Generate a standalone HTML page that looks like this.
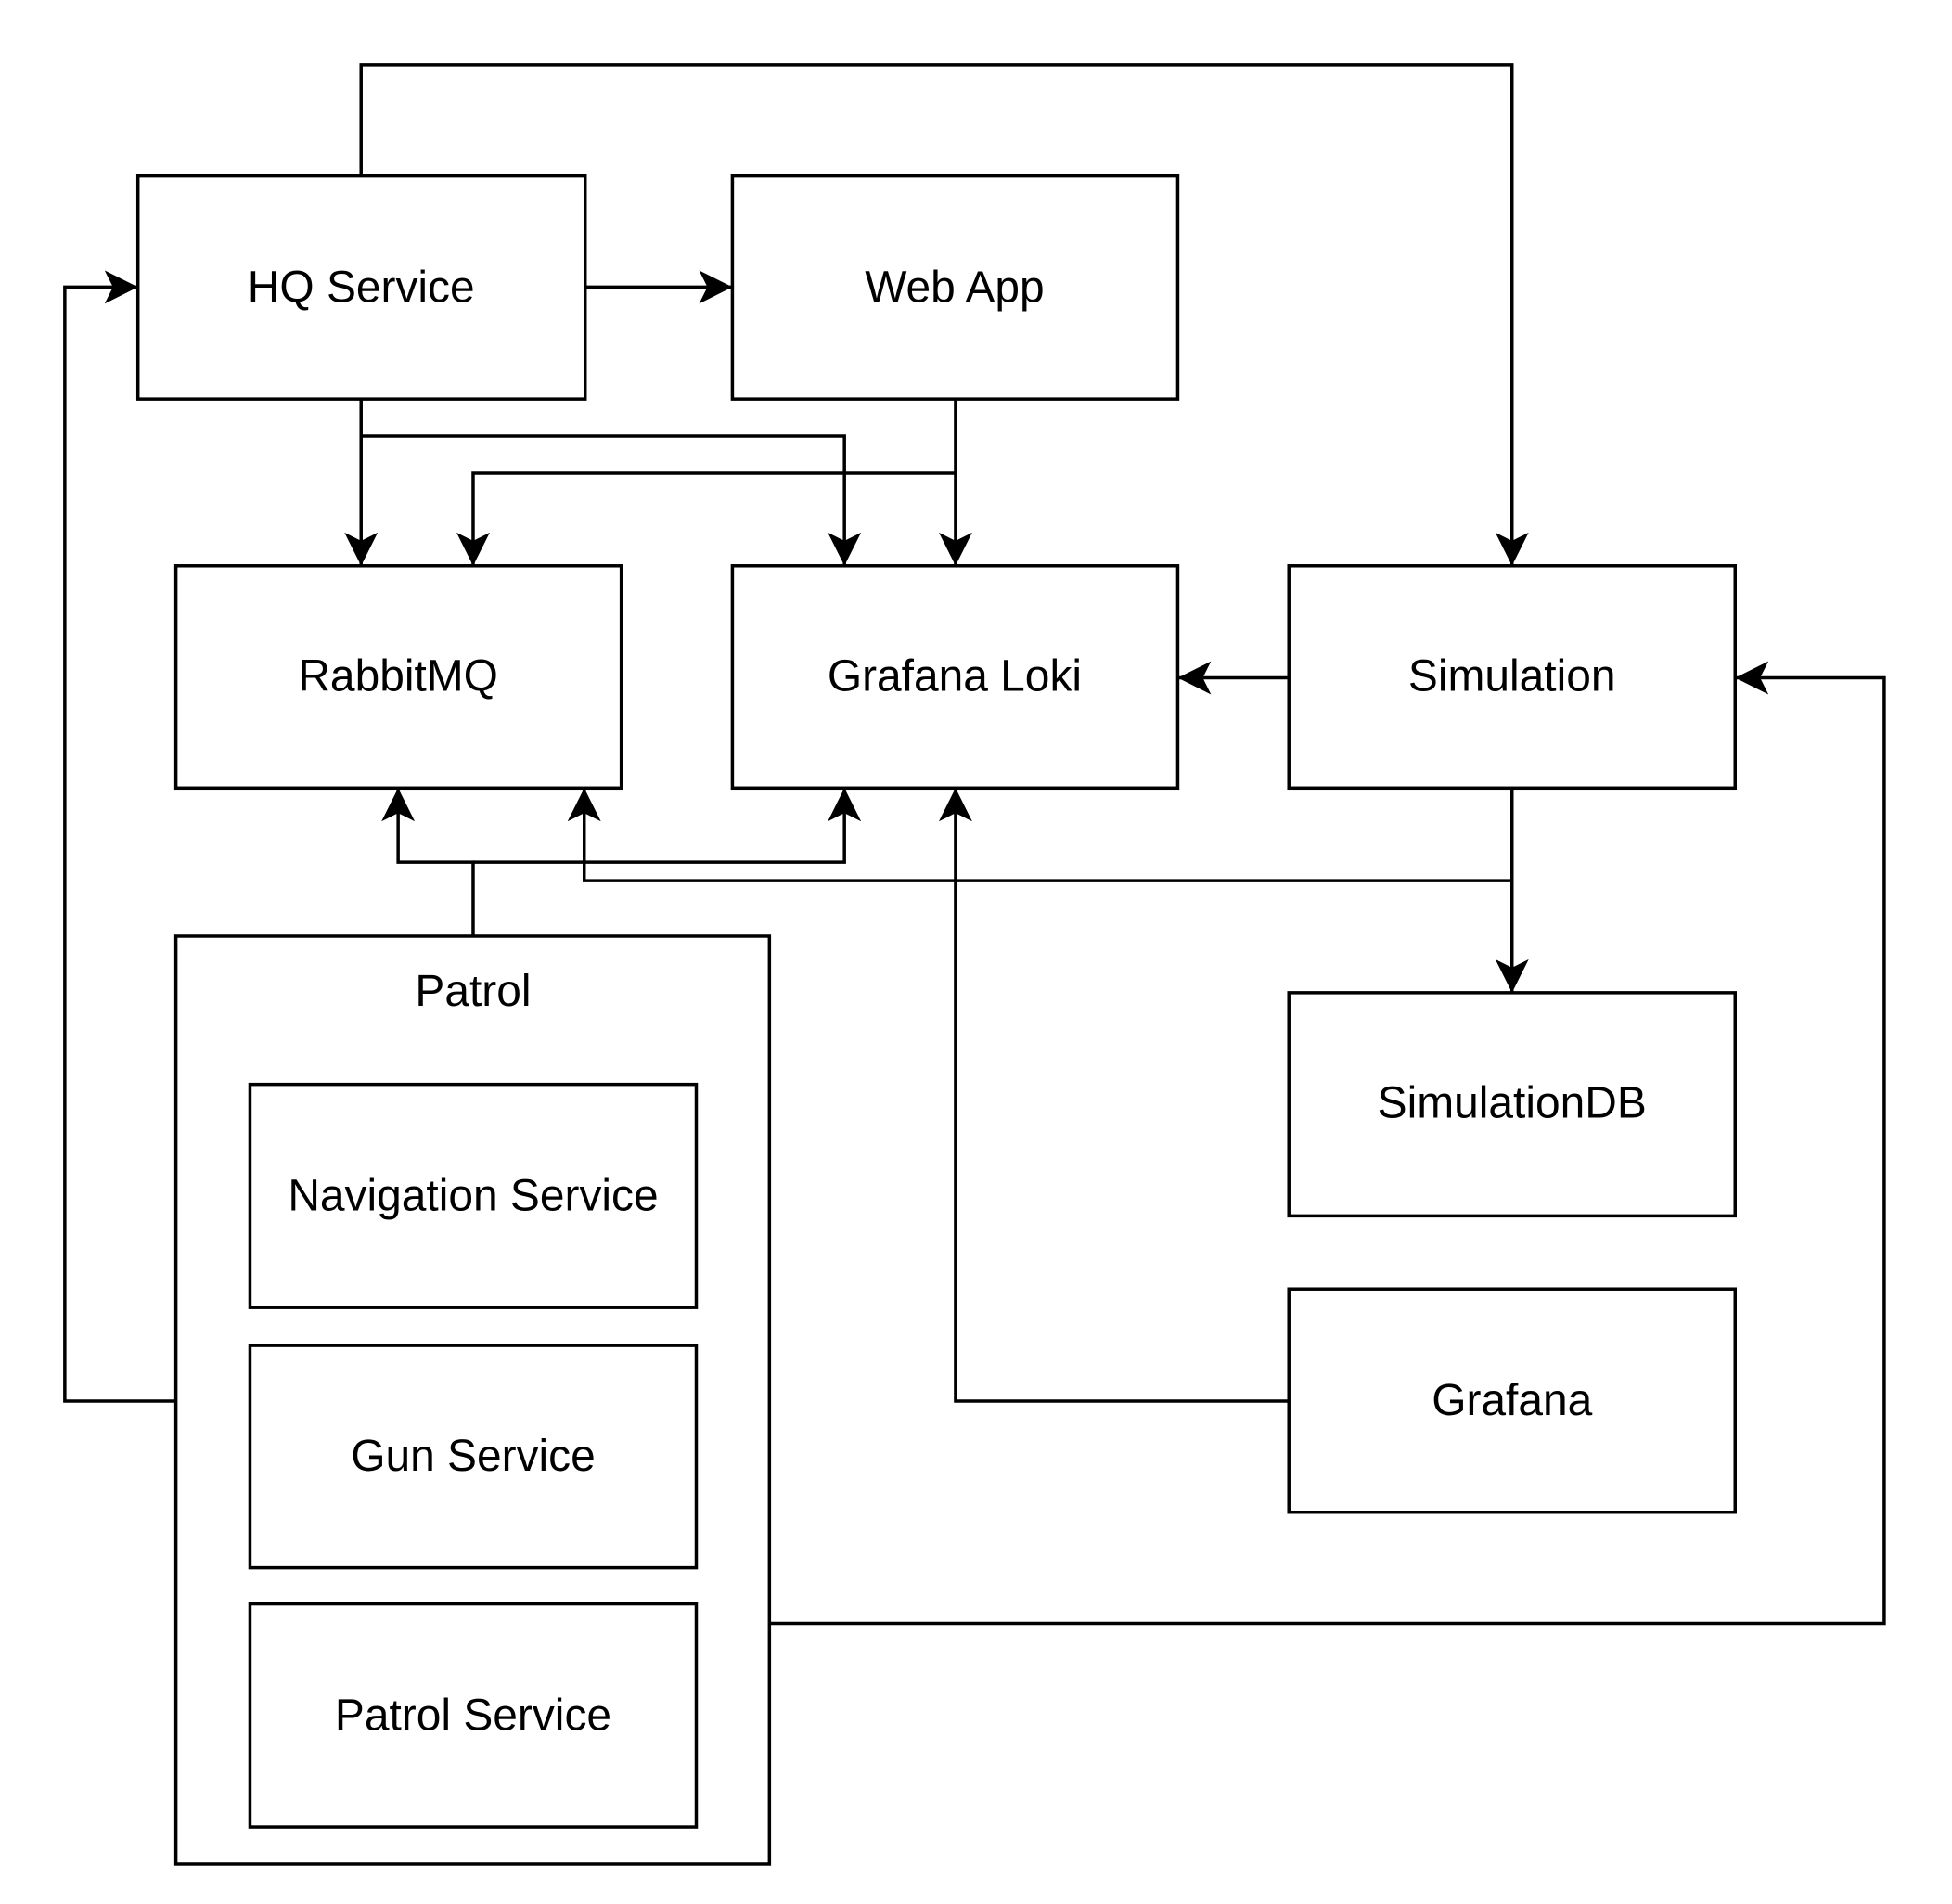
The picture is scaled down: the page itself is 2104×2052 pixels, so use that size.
<!DOCTYPE html>
<html><head><meta charset="utf-8"><style>html,body{margin:0;padding:0;background:#fff}svg{display:block}</style></head>
<body>
<svg width="2104" height="2052" viewBox="0 0 2104 2052" xmlns="http://www.w3.org/2000/svg">
<defs>
<marker id="a" markerUnits="userSpaceOnUse" markerWidth="40" markerHeight="40" refX="36" refY="18" orient="auto">
<path d="M36,18 L0,0 L9,18 L0,36 Z" fill="#000"/>
</marker>
</defs>
<g transform="scale(0.998)">
<g fill="none" stroke="#000" stroke-width="3.5">
<rect x="149" y="190" width="483" height="241"/>
<rect x="791" y="190" width="481" height="241"/>
<rect x="190" y="611" width="481" height="240"/>
<rect x="791" y="611" width="481" height="240"/>
<rect x="1392" y="611" width="482" height="240"/>
<rect x="1392" y="1072" width="482" height="241"/>
<rect x="1392" y="1392" width="482" height="241"/>
<rect x="190" y="1011" width="641" height="1002"/>
<rect x="270" y="1171" width="482" height="241"/>
<rect x="270" y="1453" width="482" height="240"/>
<rect x="270" y="1732" width="482" height="241"/>
</g>
<g fill="none" stroke="#000" stroke-width="3.5">
<polyline points="390,190 390,70 1633,70 1633,611" marker-end="url(#a)"/>
<polyline points="190,1513 70,1513 70,310 149,310" marker-end="url(#a)"/>
<polyline points="632,310 791,310" marker-end="url(#a)"/>
<polyline points="390,431 390,611" marker-end="url(#a)"/>
<polyline points="390,471 912,471 912,611" marker-end="url(#a)"/>
<polyline points="1032,431 1032,611" marker-end="url(#a)"/>
<polyline points="1032,511 511,511 511,611" marker-end="url(#a)"/>
<polyline points="1392,732 1272,732" marker-end="url(#a)"/>
<polyline points="1633,851 1633,1072" marker-end="url(#a)"/>
<polyline points="1633,951 631,951 631,851" marker-end="url(#a)"/>
<polyline points="511,1011 511,931 430,931 430,851" marker-end="url(#a)"/>
<polyline points="511,931 912,931 912,851" marker-end="url(#a)"/>
<polyline points="1392,1513 1032,1513 1032,851" marker-end="url(#a)"/>
<polyline points="831,1753 2035,1753 2035,732 1874,732" marker-end="url(#a)"/>
</g>
<g font-family="Liberation Sans, Arial, sans-serif" font-size="48" text-anchor="middle" fill="#000">
<text x="390" y="326">HQ Service</text>
<text x="1031" y="326">Web App</text>
<text x="430" y="746">RabbitMQ</text>
<text x="1031" y="746">Grafana Loki</text>
<text x="1633" y="746">Simulation</text>
<text x="1633" y="1207">SimulationDB</text>
<text x="1633" y="1528">Grafana</text>
<text x="511" y="1086">Patrol</text>
<text x="511" y="1307">Navigation Service</text>
<text x="511" y="1588">Gun Service</text>
<text x="511" y="1868">Patrol Service</text>
</g>
</g>
</svg>
</body></html>
